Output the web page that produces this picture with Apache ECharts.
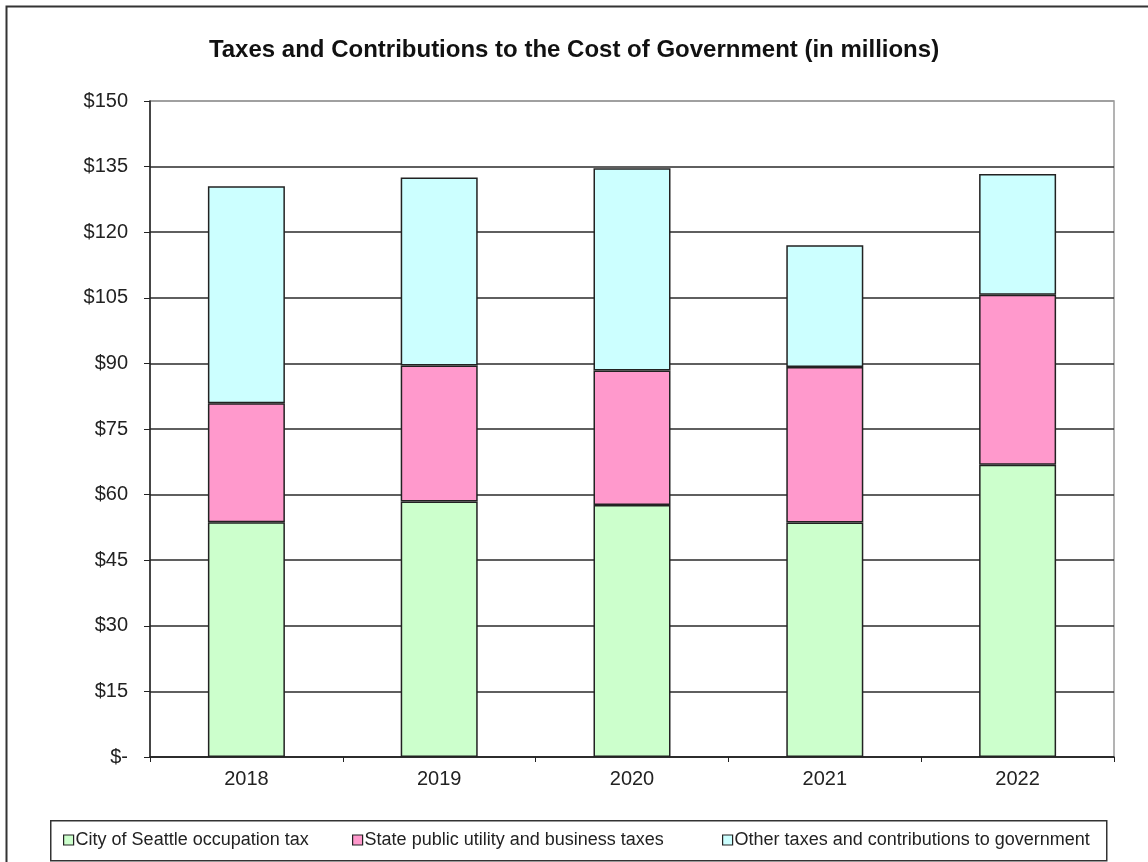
<!DOCTYPE html>
<html>
<head>
<meta charset="utf-8">
<script src="https://cdn.jsdelivr.net/npm/echarts@6/dist/echarts.min.js"></script>
<style>
html,body{margin:0;padding:0;background:#fff;}
#chart{width:1148px;height:862px;}
</style>
</head>
<body>
<div id="chart"></div>
<script>
const categories = ['2018', '2019', '2020', '2021', '2022'];
const cityOccupationTax = [53.7, 58.4, 57.6, 53.6, 66.8];
const stateUtilityBusiness = [27.2, 31.1, 30.8, 35.6, 38.9];
const otherTaxes = [49.6, 43.0, 46.2, 27.8, 27.6];
const seriesNames = ['City of Seattle occupation tax', 'State public utility and business taxes', 'Other taxes and contributions to government'];
const yTicks = [0, 15, 30, 45, 60, 75, 90, 105, 120, 135, 150];

const FONT = '"Liberation Sans", Arial, sans-serif';
const chart = echarts.init(document.getElementById('chart'));
const barStyle = (c) => ({ color: c, borderColor: '#222', borderWidth: 1.5 });
const gridColors = yTicks.map((t, i) => i === yTicks.length - 1 ? '#9a9a9a' : '#2a2a2a');
const legendLefts = [63, 352, 722];

const legendCommon = {
  top: 831, padding: 0,
  itemWidth: 10, itemHeight: 10, icon: 'rect',
  itemStyle: { borderColor: '#222', borderWidth: 1.2 },
  textStyle: { fontFamily: FONT, fontSize: 18, color: '#222', padding: [0, 0, 0, -3] }
};

chart.setOption({
  backgroundColor: '#fff',
  animation: false,
  graphic: [
    { type: 'rect', left: 4, top: 4, shape: { width: 1200, height: 900 },
      style: { fill: 'none', stroke: '#333', lineWidth: 2 }, silent: true, z: -10 },
    { type: 'rect', left: 50, top: 820, shape: { width: 1056, height: 40 },
      style: { fill: '#fff', stroke: '#333', lineWidth: 1.5 }, silent: true, z: -5 }
  ],
  title: {
    text: 'Taxes and Contributions to the Cost of Government (in millions)',
    left: 'center', top: 33,
    textStyle: { fontFamily: FONT, fontSize: 24, fontWeight: 'bold', color: '#111' }
  },
  legend: seriesNames.map((n, i) => Object.assign({}, legendCommon, { data: [n], left: legendLefts[i] })),
  grid: {
    left: 150, right: 34, top: 101, bottom: 105,
    show: true, borderColor: '#9a9a9a', borderWidth: 1.5, backgroundColor: '#fff'
  },
  xAxis: {
    type: 'category', data: categories,
    axisLine: { lineStyle: { color: '#222', width: 1.5 } },
    axisTick: { show: true, length: 5, lineStyle: { color: '#222' } },
    axisLabel: { fontFamily: FONT, fontSize: 20, color: '#222', margin: 12 }
  },
  yAxis: {
    type: 'value', min: 0, max: 150, interval: 15,
    axisLine: { show: true, lineStyle: { color: '#222', width: 1.5 } },
    axisTick: { show: true, length: 6, lineStyle: { color: '#222' } },
    axisLabel: {
      fontFamily: FONT, fontSize: 20, color: '#222', margin: 22,
      formatter: (v) => v === 0 ? '$-' : '$' + v
    },
    splitLine: { show: true, lineStyle: { color: gridColors, width: 1.5 } }
  },
  series: [
    { name: seriesNames[0], type: 'bar', stack: 'total', barWidth: 77, data: cityOccupationTax, itemStyle: barStyle('#CCFFCC') },
    { name: seriesNames[1], type: 'bar', stack: 'total', barWidth: 77, data: stateUtilityBusiness, itemStyle: barStyle('#FF99CC') },
    { name: seriesNames[2], type: 'bar', stack: 'total', barWidth: 77, data: otherTaxes, itemStyle: barStyle('#CCFFFF') }
  ]
});
</script>
</body>
</html>
